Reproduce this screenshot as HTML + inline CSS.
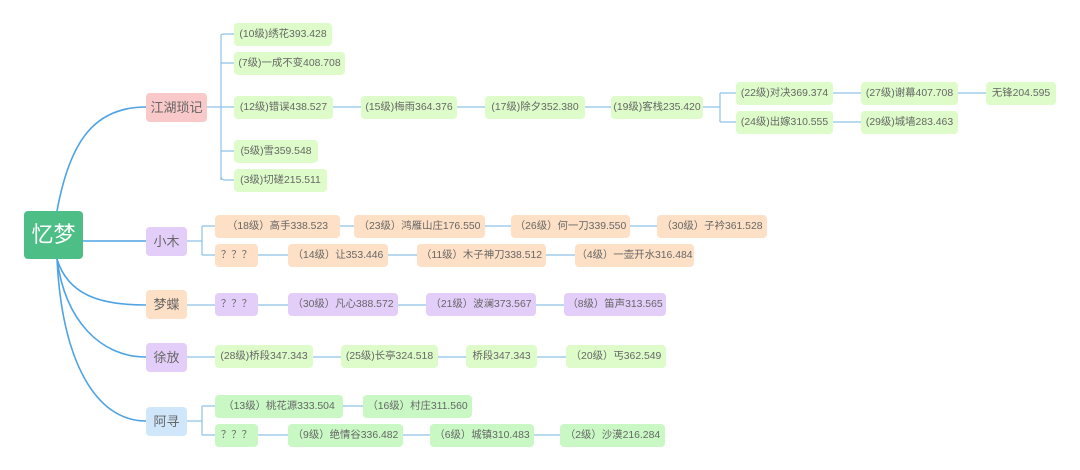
<!DOCTYPE html>
<html><head><meta charset="utf-8"><style>
body{margin:0;width:1080px;height:470px;background:#fff;position:relative;overflow:hidden;font-family:"Liberation Sans","Noto Sans CJK SC",sans-serif}
.n{position:absolute;height:23px;line-height:23px;font-size:10.4px;color:#666;border-radius:4px;text-align:center;white-space:nowrap}
.g{background:#ddfcc9}.o{background:#fde0c6}.p{background:#e3cef9}.a{background:#c9f8c5}
.b{position:absolute;height:29px;line-height:29px;width:41px;font-size:13px;color:#666;border-radius:4px;text-align:center}
svg{position:absolute;left:0;top:0}
</style></head><body>
<svg width="1080" height="470" fill="none">
<g stroke="#4ea3e4" stroke-width="1.6">
<path d="M57 211 C70 140,95 107,146 107"/>
<path d="M83 241 L146 241"/>
<path d="M57 259 C68 295,100 305,146 305"/>
<path d="M57 259 C65 320,100 357,146 357"/>
<path d="M57 259 C62 360,95 421,146 421"/>
</g>
<g stroke="#8ec2e8" stroke-width="1.2">
<path d="M207 107H221M221 35V180M221 35Q221 34 225 34H234M221 63H234M221 107H234M221 151H234M221 176Q221 180 225 180H234"/>
<path d="M333 107H361M457 107H485M585 107H611M703 107H720M720 93V122M720 93H736M720 122H736M833 93H861M958 93H986M833 122H861"/>
<path d="M187 241H202M202 226V255M202 226H215M202 255H215"/>
<path d="M340 226H354M485 226H511M630 226H657M258 255H288M388 255H417M546 255H575"/>
<path d="M187 305H215M258 305H288M398 305H426M536 305H564"/>
<path d="M187 357H215M313 357H341M438 357H466M537 357H566"/>
<path d="M187 421H202M202 406V435M202 406H215M202 435H215M343 406H363M258 435H288M403 435H430M534 435H560"/>
</g>
</svg>
<div style="position:absolute;left:24px;top:211px;width:59px;height:48px;background:#4dbf86;border-radius:4px;color:#fff;font-size:22px;line-height:48px;text-align:center">忆梦</div>
<div class="b" style="left:146px;top:93px;width:61px;background:#f9c8c8">江湖琐记</div>
<div class="b" style="left:146px;top:227px;background:#e3cef9">小木</div>
<div class="b" style="left:146px;top:290px;background:#fde0c6">梦蝶</div>
<div class="b" style="left:146px;top:343px;background:#e3cef9">徐放</div>
<div class="b" style="left:146px;top:407px;background:#cfe6fb">阿寻</div>

<div class="n g" style="left:234px;top:23px;width:98px">(10级)绣花393.428</div>
<div class="n g" style="left:234px;top:52px;width:111px">(7级)一成不变408.708</div>
<div class="n g" style="left:234px;top:96px;width:99px">(12级)错误438.527</div>
<div class="n g" style="left:234px;top:140px;width:84px">(5级)雪359.548</div>
<div class="n g" style="left:234px;top:169px;width:93px">(3级)切磋215.511</div>
<div class="n g" style="left:361px;top:96px;width:96px">(15级)梅雨364.376</div>
<div class="n g" style="left:485px;top:96px;width:100px">(17级)除夕352.380</div>
<div class="n g" style="left:611px;top:96px;width:92px">(19级)客栈235.420</div>
<div class="n g" style="left:736px;top:82px;width:97px">(22级)对决369.374</div>
<div class="n g" style="left:736px;top:111px;width:97px">(24级)出嫁310.555</div>
<div class="n g" style="left:861px;top:82px;width:97px">(27级)谢幕407.708</div>
<div class="n g" style="left:861px;top:111px;width:97px">(29级)城墙283.463</div>
<div class="n g" style="left:986px;top:82px;width:70px">无锋204.595</div>

<div class="n o" style="left:215px;top:215px;width:125px">（18级）高手338.523</div>
<div class="n o" style="left:354px;top:215px;width:131px">（23级）鸿雁山庄176.550</div>
<div class="n o" style="left:511px;top:215px;width:119px">（26级）何一刀339.550</div>
<div class="n o" style="left:657px;top:215px;width:110px">（30级）子衿361.528</div>
<div class="n o" style="left:215px;top:244px;width:43px">？？？</div>
<div class="n o" style="left:288px;top:244px;width:100px">（14级）让353.446</div>
<div class="n o" style="left:417px;top:244px;width:129px">（11级）木子神刀338.512</div>
<div class="n o" style="left:575px;top:244px;width:119px">（4级）一壶开水316.484</div>

<div class="n p" style="left:215px;top:293px;width:43px">？？？</div>
<div class="n p" style="left:288px;top:293px;width:110px">（30级）凡心388.572</div>
<div class="n p" style="left:426px;top:293px;width:110px">（21级）波澜373.567</div>
<div class="n p" style="left:564px;top:293px;width:102px">（8级）笛声313.565</div>

<div class="n g" style="left:215px;top:345px;width:98px">(28级)桥段347.343</div>
<div class="n g" style="left:341px;top:345px;width:97px">(25级)长亭324.518</div>
<div class="n g" style="left:466px;top:345px;width:71px">桥段347.343</div>
<div class="n g" style="left:566px;top:345px;width:100px">（20级）丐362.549</div>

<div class="n a" style="left:215px;top:395px;width:128px">（13级）桃花源333.504</div>
<div class="n a" style="left:363px;top:395px;width:109px">（16级）村庄311.560</div>
<div class="n a" style="left:215px;top:424px;width:43px">？？？</div>
<div class="n a" style="left:288px;top:424px;width:115px">（9级）绝情谷336.482</div>
<div class="n a" style="left:430px;top:424px;width:104px">（6级）城镇310.483</div>
<div class="n a" style="left:560px;top:424px;width:105px">（2级）沙漠216.284</div>
</body></html>
